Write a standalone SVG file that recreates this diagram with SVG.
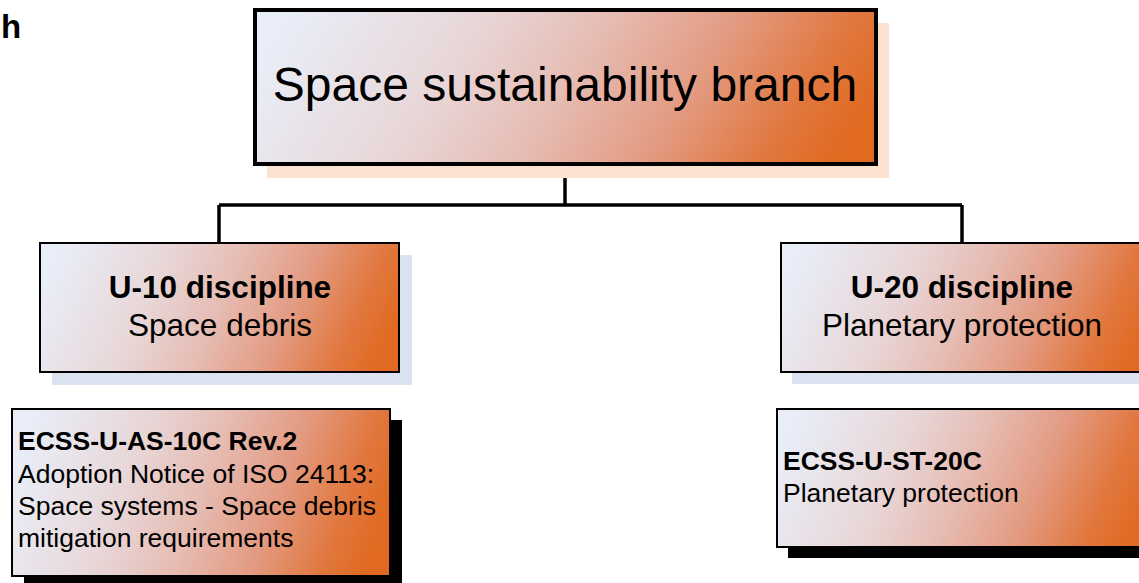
<svg xmlns="http://www.w3.org/2000/svg" width="1139" height="583" viewBox="0 0 1139 583">
<defs>
<linearGradient id="g" x1="0" y1="0.42" x2="1" y2="0.58">
<stop offset="0" stop-color="#e9edf7"/>
<stop offset="0.3" stop-color="#e8d6d7"/>
<stop offset="0.5" stop-color="#e6bcb3"/>
<stop offset="0.7" stop-color="#e39b82"/>
<stop offset="0.88" stop-color="#e17840"/>
<stop offset="1" stop-color="#e06a20"/>
</linearGradient>
<style>
.box{fill:url(#g);stroke:#000;}
.t{font-family:"Liberation Sans",Arial,sans-serif;fill:#000;}
.b{font-weight:bold;}
.conn{fill:none;stroke:#000;stroke-width:3.5;}
</style>
</defs>
<rect width="1139" height="583" fill="#fff"/>
<text class="t b" x="1" y="38" font-size="33">h</text>
<g id="connectors">
<path class="conn" d="M565,164 V205 M219,205 H962 M219,205 V243 M962,205 V243"/>
</g>
<g id="root">
<rect x="267" y="23" width="622" height="155" fill="#fbe1cf"/>
<rect class="box" x="255" y="10" width="621" height="154" stroke-width="4"/>
<text class="t" x="565" y="101" font-size="48" text-anchor="middle">Space sustainability branch</text>
</g>
<g id="u10">
<rect x="52" y="255" width="360" height="130" fill="#dbe3f1"/>
<rect class="box" x="40" y="243" width="359" height="129" stroke-width="2"/>
<text class="t b" x="220" y="298" font-size="31.5" text-anchor="middle">U-10 discipline</text>
<text class="t" x="220" y="336" font-size="31.5" text-anchor="middle">Space debris</text>
</g>
<g id="u20">
<rect x="792" y="255" width="360" height="129" fill="#dbe3f1"/>
<rect class="box" x="781" y="243" width="370" height="129" stroke-width="2"/>
<text class="t b" x="962" y="298" font-size="31.5" text-anchor="middle">U-20 discipline</text>
<text class="t" x="962" y="336" font-size="31.5" text-anchor="middle">Planetary protection</text>
</g>
<g id="ecss-u-as-10c">
<rect x="24" y="420" width="378" height="170" fill="#000"/>
<rect class="box" x="12" y="409" width="378" height="167" stroke-width="2"/>
<text class="t b" x="18" y="450" font-size="26.5">ECSS-U-AS-10C Rev.2</text>
<text class="t" x="18" y="483" font-size="26.5">Adoption Notice of ISO 24113:</text>
<text class="t" x="18" y="515" font-size="26.5">Space systems - Space debris</text>
<text class="t" x="18" y="547" font-size="26.5">mitigation requirements</text>
</g>
<g id="ecss-u-st-20c">
<rect x="788" y="420" width="370" height="138" fill="#000"/>
<rect class="box" x="777" y="409" width="375" height="138" stroke-width="2"/>
<text class="t b" x="783" y="470" font-size="26.5">ECSS-U-ST-20C</text>
<text class="t" x="783" y="502" font-size="26.5">Planetary protection</text>
</g>
</svg>
